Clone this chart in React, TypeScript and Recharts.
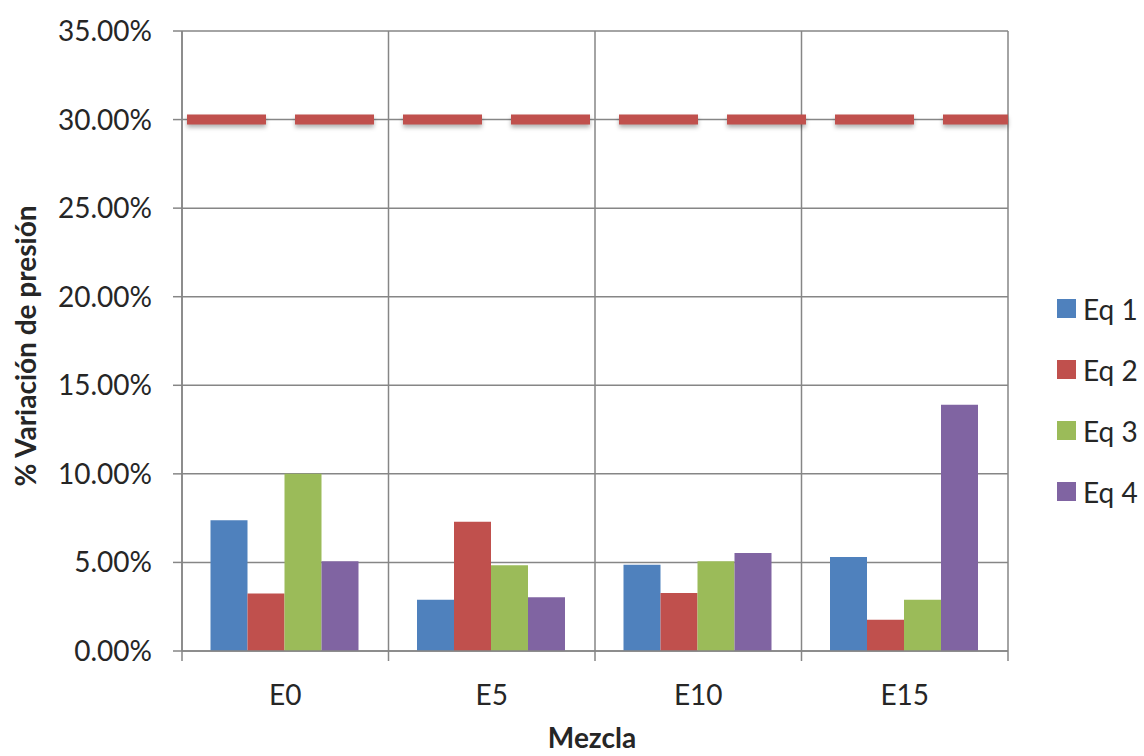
import React from "react";
import { BarChart, Bar, XAxis, YAxis, CartesianGrid, Legend, ReferenceLine, Label } from "recharts";

// Pressure-variation results per blend and equation
const mezclas = ["E0", "E5", "E10", "E15"];
const eq1 = [0.0738, 0.029, 0.0487, 0.053];
const eq2 = [0.0324, 0.0729, 0.0327, 0.0176];
const eq3 = [0.1, 0.0484, 0.0506, 0.0289];
const eq4 = [0.0507, 0.0303, 0.0553, 0.139];
const seriesNames = ["Eq 1", "Eq 2", "Eq 3", "Eq 4"];
const seriesColors = ["#4F81BD", "#C0504D", "#9BBB59", "#8064A2"];
const yTicks = [0, 0.05, 0.1, 0.15, 0.2, 0.25, 0.3, 0.35];
const limite = 0.3;

const data = mezclas.map((m, i) => ({
  mezcla: m,
  "Eq 1": eq1[i],
  "Eq 2": eq2[i],
  "Eq 3": eq3[i],
  "Eq 4": eq4[i],
}));

const W = 1144;
const H = 756;
const MARGIN = { top: 31, right: 36, bottom: 35, left: 0 };
const Y_AXIS_W = 182;
const LEGEND_W = 100;
const X_AXIS_H = 70;
const PLOT_W = W - MARGIN.left - Y_AXIS_W - MARGIN.right - LEGEND_W;
const BAND = PLOT_W / mezclas.length;

const GRID = "#868686";
const FONT = "Lato, 'Open Sans', sans-serif";
const TEXT = "#262626";

const fmtPct = (v: number) => (v * 100).toFixed(2) + "%";

const XTick = (props: any) => {
  const { x, y, payload, index } = props;
  const half = BAND / 2;
  return (
    <g>
      <line x1={x - half} x2={x - half} y1={y} y2={y + 10} stroke={GRID} strokeWidth={1.5} />
      {index === mezclas.length - 1 && (
        <line x1={x + half} x2={x + half} y1={y} y2={y + 10} stroke={GRID} strokeWidth={1.5} />
      )}
      <text x={x} y={y + 54} textAnchor="middle" fontFamily={FONT} fontSize={28} fill={TEXT}>
        {payload.value}
      </text>
    </g>
  );
};

const LegendBox = (props: any) => {
  const items = props.payload || [];
  return (
    <div style={{ fontFamily: FONT, fontSize: 28, color: TEXT }}>
      {items.map((it: any) => (
        <div key={it.value} style={{ height: 61, display: "flex", alignItems: "center" }}>
          <span style={{ width: 19, height: 19, background: it.color, display: "inline-block", marginRight: 7 }} />
          <span style={{ whiteSpace: "nowrap" }}>{it.value}</span>
        </div>
      ))}
    </div>
  );
};

export default function App() {
  return (
    <div style={{ position: "absolute", left: 0, top: 0, width: W, height: H, background: "#fff" }}>
      <BarChart width={W} height={H} data={data} margin={MARGIN} barCategoryGap={28.5} barGap={0}>
        <CartesianGrid
          stroke={GRID}
          strokeWidth={1.5}
          horizontal={true}
          vertical={true}
          verticalCoordinatesGenerator={({ offset }: any) =>
            mezclas.map((_, i) => offset.left + i * (offset.width / mezclas.length)).concat(offset.left + offset.width)
          }
        />
        <XAxis
          dataKey="mezcla"
          height={X_AXIS_H}
          tickLine={false}
          tickSize={0}
          tickMargin={0}
          axisLine={{ stroke: GRID, strokeWidth: 1.5 }}
          tick={<XTick />}
          interval={0}
        >
          <Label
            content={() => (
              <text x={592} y={748} textAnchor="middle" fontFamily={FONT} fontSize={28} fontWeight="bold" fill={TEXT}>
                Mezcla
              </text>
            )}
          />
        </XAxis>
        <YAxis
          width={Y_AXIS_W}
          domain={[0, 0.35]}
          ticks={yTicks}
          tickFormatter={fmtPct}
          tickSize={9}
          tickMargin={21}
          axisLine={{ stroke: GRID, strokeWidth: 1.5 }}
          tickLine={{ stroke: GRID, strokeWidth: 1.5 }}
          tick={{ fontFamily: FONT, fontSize: 28, fill: TEXT }}
        >
          <Label
            content={() => (
              <text
                x={36}
                y={346}
                transform="rotate(-90 36 346)"
                textAnchor="middle"
                fontFamily={FONT}
                fontSize={28}
                fontWeight="bold"
                fill={TEXT}
              >
                % Variación de presión
              </text>
            )}
          />
        </YAxis>
        <Legend
          layout="vertical"
          align="right"
          verticalAlign="middle"
          content={<LegendBox />}
          wrapperStyle={{ width: LEGEND_W, left: 1057, top: 278 }}
        />
        {seriesNames.map((s, i) => (
          <Bar key={s} dataKey={s} fill={seriesColors[i]} isAnimationActive={false} />
        ))}
        <ReferenceLine
          y={limite}
          stroke="#C0504D"
          strokeWidth={10}
          strokeDasharray="0 5 79 24"
          style={{ filter: "drop-shadow(0px 3px 2px rgba(0,0,0,0.3))" }}
        />
      </BarChart>
    </div>
  );
}
